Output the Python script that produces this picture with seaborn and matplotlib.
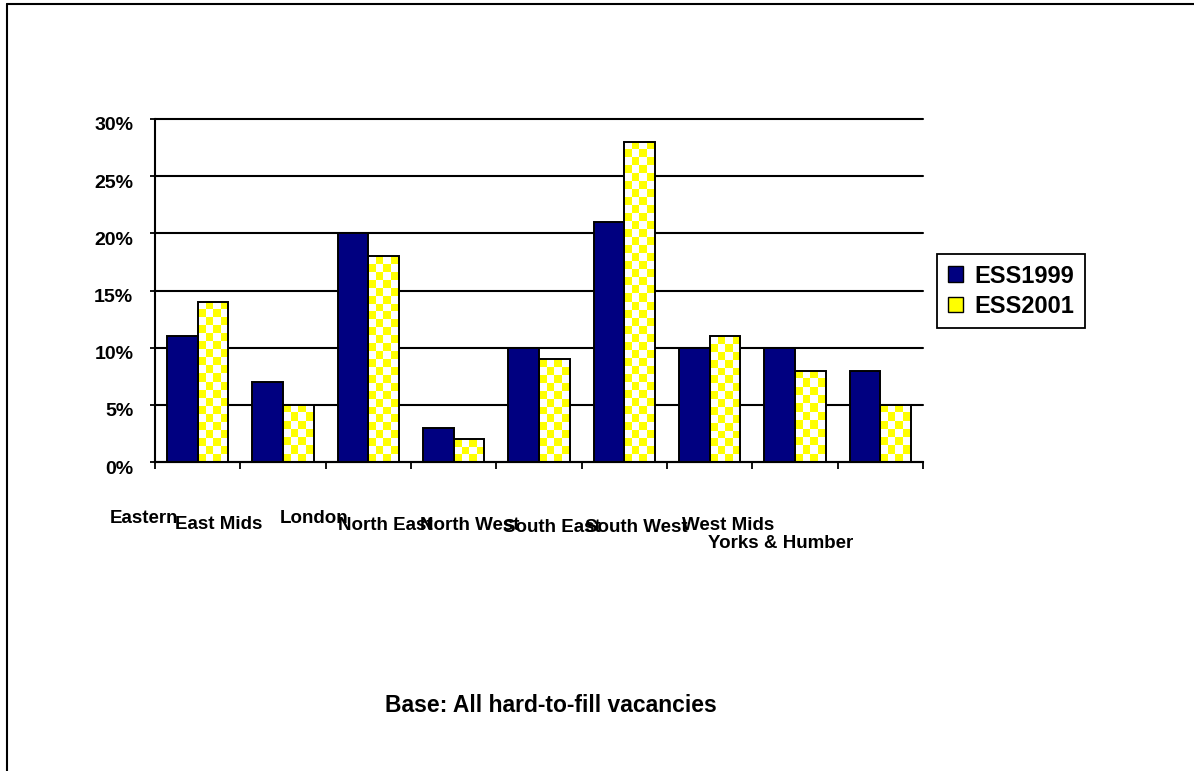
#!/usr/bin/env python3
"""Hard-to-fill vacancies by region, ESS1999 vs ESS2001."""

import matplotlib.pyplot as plt
import numpy as np
import pandas as pd
import seaborn as sns
from matplotlib.colors import ListedColormap
from matplotlib.lines import Line2D
from matplotlib.patches import Patch
from matplotlib.transforms import ScaledTranslation

REGIONS = ["Eastern", "East Mids", "London", "North East", "North West",
           "South East", "South West", "West Mids", "Yorks & Humber"]
ESS1999 = [11, 7, 20, 3, 10, 21, 10, 10, 8]
ESS2001 = [14, 5, 18, 2, 9, 28, 11, 8, 5]
SERIES = ["ESS1999", "ESS2001"]
Y_TICKS = [0, 5, 10, 15, 20, 25, 30]
NOTE = "Base: All hard-to-fill vacancies"

NAVY = "#000080"
YELLOW = "#FFFF00"
W, H = 1194, 771
# left x / baseline y (pixels) of each category label, as staggered in the original
LABEL_POS = [(110, 523), (175, 529), (280, 523), (338, 530), (420, 530),
             (503, 532), (585, 532), (682, 530), (708, 548)]


def main():
    df = pd.DataFrame({
        "region": REGIONS * 2,
        "value": ESS1999 + ESS2001,
        "survey": [SERIES[0]] * len(REGIONS) + [SERIES[1]] * len(REGIONS),
    })

    sns.set_style("white")
    plt.rcParams["font.family"] = ["Liberation Sans", "DejaVu Sans"]
    plt.rcParams["font.weight"] = "bold"
    for key in ["text.color", "axes.labelcolor", "xtick.color", "ytick.color"]:
        plt.rcParams[key] = "black"

    fig = plt.figure(figsize=(W / 100, H / 100), dpi=100)
    ax = fig.add_axes([155 / W, 1 - 462 / H, 768 / W, 343 / H])

    sns.barplot(data=df, x="region", y="value", hue="survey", hue_order=SERIES,
                palette=[NAVY, YELLOW], saturation=1, width=0.72, errorbar=None,
                edgecolor="black", linewidth=1.4, legend=False, ax=ax)

    # checkerboard fill for the ESS2001 bars (second hue level)
    cmap = ListedColormap(["white", YELLOW])
    bars_2001 = ax.containers[1]
    for p in bars_2001:
        x0, w, h = p.get_x(), p.get_width(), p.get_height()
        if h <= 0:
            continue
        nrows = max(1, int(round(h / 0.7)))
        rr, cc = np.indices((nrows, 4))
        board = (rr + cc + 1) % 2
        ax.imshow(board, cmap=cmap, extent=(x0, x0 + w, 0, h), origin="lower",
                  aspect="auto", interpolation="nearest", zorder=0.9)
        p.set_facecolor("none")

    ax.set_xlim(-0.5, len(REGIONS) - 0.5)
    ax.set_ylim(0, 30)
    ax.set_yticks(Y_TICKS)
    ax.set_yticklabels([f"{t}%" for t in Y_TICKS], fontsize=14, fontweight="bold")
    ax.set_xticks([])
    ax.set_xticks(np.arange(-0.5, len(REGIONS)), minor=True)
    ax.set_xlabel("")
    ax.set_ylabel("")

    ax.set_axisbelow(True)
    ax.grid(axis="y", color="black", linewidth=1.5)
    ax.grid(axis="x", visible=False)
    for line in ax.get_ygridlines():
        line.set_clip_on(False)
    for side in ["top", "right"]:
        ax.spines[side].set_visible(False)
    for side in ["left", "bottom"]:
        ax.spines[side].set_color("black")
        ax.spines[side].set_linewidth(1.5)
    ax.tick_params(axis="y", which="major", left=True, length=3.6, width=1.3,
                   color="black", pad=12)
    ax.tick_params(axis="x", which="minor", bottom=True, length=5, width=1.3,
                   color="black", direction="out")
    shift = ScaledTranslation(0, -5 / 100, fig.dpi_scale_trans)
    for lab in ax.get_yticklabels():
        lab.set_transform(lab.get_transform() + shift)

    for name, (px, py) in zip(REGIONS, LABEL_POS):
        fig.text(px / W, 1 - py / H, name, ha="left", va="baseline",
                 fontsize=13.5, fontweight="bold")

    handles = [Patch(facecolor=NAVY, edgecolor="black", linewidth=1),
               Patch(facecolor=YELLOW, edgecolor="black", linewidth=1)]
    leg = fig.legend(handles, SERIES, loc="upper left",
                     bbox_to_anchor=(937 / W, 1 - 254 / H),
                     bbox_transform=fig.transFigure, borderaxespad=0,
                     prop={"size": 17, "weight": "bold"}, fancybox=False,
                     framealpha=1, edgecolor="black", handlelength=0.65,
                     handleheight=0.65, handletextpad=0.5, labelspacing=0.3,
                     borderpad=0.45)
    leg.get_frame().set_linewidth(1.3)

    fig.text(551 / W, 1 - 712 / H, NOTE, ha="center", va="baseline",
             fontsize=16.5, fontweight="bold")

    # outer chart border (only the top and left edges fall inside the image)
    fig.add_artist(Line2D([6.5 / W, 6.5 / W], [0, 1 - 4 / H],
                          transform=fig.transFigure, color="black", lw=1.5))
    fig.add_artist(Line2D([6.5 / W, 1], [1 - 4 / H, 1 - 4 / H],
                          transform=fig.transFigure, color="black", lw=1.5))

    fig.savefig("out.png", dpi=100)
    plt.close(fig)


if __name__ == "__main__":
    main()
